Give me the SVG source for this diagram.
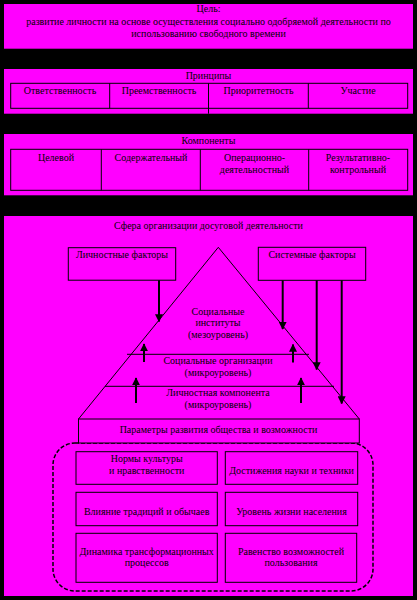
<svg xmlns="http://www.w3.org/2000/svg" width="417" height="600" viewBox="0 0 417 600">
<style>
.panel{fill:#ff00ff;stroke:none}
.box{fill:#ff00ff;stroke:#000;stroke-width:1}
.ln{stroke:#000;stroke-width:1;fill:none}
.t{font-family:"Liberation Serif","Times New Roman",serif;font-size:10px;fill:#000;text-anchor:middle}
.arr{stroke:#000;stroke-width:2;fill:none;marker-end:url(#ah)}
</style>
<defs>
<marker id="ah" viewBox="0 0 10 10" refX="9" refY="5" markerWidth="4" markerHeight="4" orient="auto" markerUnits="strokeWidth">
<path d="M0,0 L10,5 L0,10 Z" fill="#000"/>
</marker>
</defs>
<rect x="0" y="0" width="417" height="600" fill="#000"/>

<g id="goal">
<rect class="panel" x="4" y="4" width="409" height="44.7"/>
<text class="t" x="208.5" y="11.5">Цель:</text>
<text class="t" x="208.5" y="24.5">развитие личности на основе осуществления социально одобряемой деятельности по</text>
<text class="t" x="208.5" y="37">использованию свободного времени</text>
</g>

<g id="principles">
<rect class="panel" x="4" y="69" width="409" height="44.7"/>
<text class="t" x="208.5" y="78.5">Принципы</text>
<rect class="box" x="10.7" y="83.3" width="397" height="25"/>
<line class="ln" x1="109.7" y1="83.3" x2="109.7" y2="108.3"/>
<line class="ln" x1="208.5" y1="83.3" x2="208.5" y2="113.7"/>
<line class="ln" x1="308.3" y1="83.3" x2="308.3" y2="108.3"/>
<text class="t" x="60" y="94">Ответственность</text>
<text class="t" x="159" y="94">Преемственность</text>
<text class="t" x="258.5" y="94">Приоритетность</text>
<text class="t" x="358" y="94">Участие</text>
</g>

<g id="components">
<rect class="panel" x="4" y="134" width="409" height="61.3"/>
<text class="t" x="208.5" y="144">Компоненты</text>
<rect class="box" x="10.7" y="149.3" width="397" height="41"/>
<line class="ln" x1="101.3" y1="149.3" x2="101.3" y2="190.3"/>
<line class="ln" x1="200.3" y1="149.3" x2="200.3" y2="190.3"/>
<line class="ln" x1="308.7" y1="149.3" x2="308.7" y2="190.3"/>
<text class="t" x="56" y="161">Целевой</text>
<text class="t" x="151" y="161">Содержательный</text>
<text class="t" x="254.5" y="161">Операционно-</text>
<text class="t" x="254.5" y="173">деятельностный</text>
<text class="t" x="358" y="161">Результативно-</text>
<text class="t" x="358" y="173">контрольный</text>
</g>

<g id="sphere">
<rect class="panel" x="4" y="216" width="409" height="380"/>
<text class="t" x="208.5" y="229">Сфера организации досуговой деятельности</text>
</g>

<g id="personal-factors">
<rect class="box" x="68.3" y="247.7" width="107.4" height="32.5"/>
<text class="t" x="122" y="258">Личностные факторы</text>
</g>

<g id="system-factors">
<rect class="box" x="258.3" y="247.3" width="107.4" height="33"/>
<text class="t" x="312" y="258">Системные факторы</text>
</g>

<g id="pyramid">
<path class="ln" d="M218.3,247.3 L359.3,419 M218.3,247.3 L78.5,419"/>
<line class="ln" x1="127" y1="354.3" x2="309" y2="354.3"/>
<line class="ln" x1="105" y1="386.3" x2="334" y2="386.3"/>
</g>

<g id="social-institutions">
<text class="t" x="218" y="315">Социальные</text>
<text class="t" x="218" y="326">институты</text>
<text class="t" x="218" y="337.5">(мезоуровень)</text>
</g>

<g id="social-organizations">
<text class="t" x="218" y="363.5">Социальные организации</text>
<text class="t" x="218" y="376">(микроуровень)</text>
</g>

<g id="personal-component">
<text class="t" x="218" y="396">Личностная компонента</text>
<text class="t" x="218" y="408">(микроуровень)</text>
</g>

<g id="environment">
<rect x="53" y="443" width="320" height="148" rx="22" ry="22" fill="none" stroke="#000" stroke-width="1.5" stroke-dasharray="4,2"/>
</g>

<g id="parameters">
<rect class="box" x="78.5" y="419" width="280.8" height="24"/>
<text class="t" x="218.5" y="433">Параметры развития общества и возможности</text>
</g>

<g id="culture-norms">
<rect class="box" x="76" y="451.7" width="141.3" height="32.6"/>
<text class="t" x="146.7" y="462">Нормы культуры</text>
<text class="t" x="146.7" y="474">и нравственности</text>
</g>
<g id="science">
<rect class="box" x="225.3" y="451.7" width="132.4" height="32.6"/>
<text class="t" x="291.5" y="474">Достижения науки и техники</text>
</g>
<g id="traditions">
<rect class="box" x="76" y="492.3" width="141.3" height="33.4"/>
<text class="t" x="146.7" y="515">Влияние традиций и обычаев</text>
</g>
<g id="living-standard">
<rect class="box" x="225.3" y="492.3" width="132.4" height="33.4"/>
<text class="t" x="291.5" y="515">Уровень жизни населения</text>
</g>
<g id="dynamics">
<rect class="box" x="76" y="533.3" width="141.3" height="49"/>
<text class="t" x="146.7" y="555">Динамика трансформационных</text>
<text class="t" x="146.7" y="566">процессов</text>
</g>
<g id="equality">
<rect class="box" x="225.3" y="533.3" width="131.4" height="49"/>
<text class="t" x="291" y="555">Равенство возможностей</text>
<text class="t" x="291" y="566">пользования</text>
</g>

<g id="connectors">
<line class="arr" x1="159" y1="280.2" x2="159" y2="321.5"/>
<line class="arr" x1="282.7" y1="280.3" x2="282.7" y2="329"/>
<line class="arr" x1="316.7" y1="280.3" x2="316.7" y2="369.5"/>
<line class="arr" x1="341.7" y1="280.3" x2="341.7" y2="403.5"/>
<line class="arr" x1="144" y1="362" x2="144" y2="344"/>
<line class="arr" x1="293" y1="362.5" x2="293" y2="344.5"/>
<line class="arr" x1="136" y1="403" x2="136" y2="378"/>
<line class="arr" x1="301" y1="403" x2="301" y2="378"/>
</g>
</svg>
